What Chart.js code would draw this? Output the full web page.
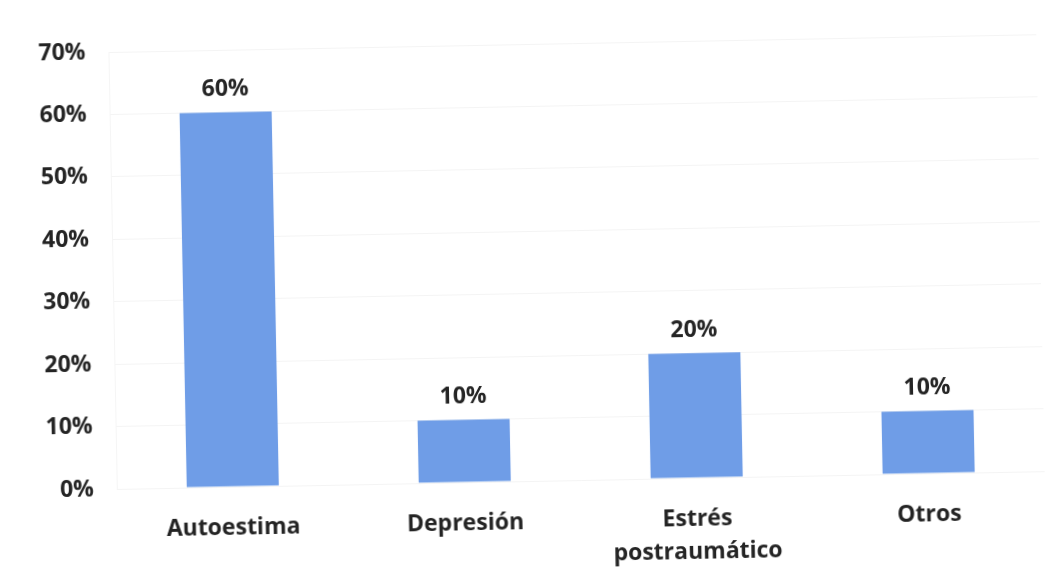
<!DOCTYPE html>
<html>
<head>
<meta charset="utf-8">
<script src="https://cdn.jsdelivr.net/npm/chart.js@4/dist/chart.umd.min.js"></script>
<style>
  html, body { margin: 0; padding: 0; background: #ffffff; overflow: hidden; }
  #wrap { width: 1061px; height: 572px; transform: rotate(-1.1deg); transform-origin: 530px 286px; }
</style>
</head>
<body>
<div id="wrap"><canvas id="c" width="1061" height="572"></canvas></div>
<script>
// Categories and values (percent)
const categories = ['Autoestima', 'Depresión', ['Estrés', 'postraumático'], 'Otros'];
const values = [60, 10, 20, 10];
const valueLabels = ['60%', '10%', '20%', '10%'];
const tickValues = [0, 10, 20, 30, 40, 50, 60, 70];

const textColor = '#242424';
const fontFamily = '"Open Sans", "DejaVu Sans", sans-serif';

// Writes each value label above its bar
const valueLabelPlugin = {
  id: 'valueLabels',
  afterDatasetsDraw(chart) {
    const ctx = chart.ctx;
    const meta = chart.getDatasetMeta(0);
    ctx.save();
    ctx.font = 'bold 23px ' + fontFamily;
    ctx.fillStyle = textColor;
    ctx.textAlign = 'center';
    ctx.textBaseline = 'middle';
    meta.data.forEach((bar, i) => {
      ctx.fillText(valueLabels[i], bar.x, bar.y - 23);
    });
    ctx.restore();
  }
};

new Chart(document.getElementById('c'), {
  type: 'bar',
  data: {
    labels: categories,
    datasets: [{
      data: values,
      backgroundColor: '#6f9de7',
      borderWidth: 0,
      barPercentage: 0.397,
      categoryPercentage: 1.0
    }]
  },
  options: {
    responsive: false,
    animation: false,
    layout: { padding: { top: 44, right: 20, left: 0, bottom: 0 } },
    plugins: {
      legend: { display: false },
      tooltip: { enabled: false }
    },
    scales: {
      x: {
        grid: { display: false, drawTicks: false },
        border: { display: false },
        ticks: {
          color: textColor,
          padding: 25,
          maxRotation: 0,
          font: { family: fontFamily, size: 23, weight: 'bold', lineHeight: 1.43 }
        },
        afterFit(scale) { scale.height = 91; }
      },
      y: {
        min: 0,
        max: 70,
        afterBuildTicks(scale) { scale.ticks = tickValues.map(v => ({ value: v })); },
        grid: { color: 'rgba(0,0,0,0.045)', lineWidth: 1, drawTicks: false },
        border: { display: true, color: 'rgba(0,0,0,0.04)' },
        ticks: {
          color: textColor,
          padding: 23,
          font: { family: fontFamily, size: 23, weight: 'bold' },
          callback: v => v + '%'
        },
        afterFit(scale) { scale.width = 113; }
      }
    }
  },
  plugins: [valueLabelPlugin]
});
</script>
</body>
</html>
